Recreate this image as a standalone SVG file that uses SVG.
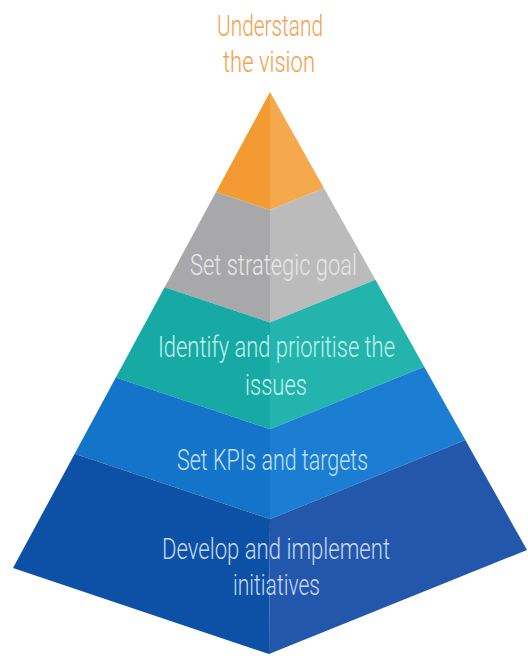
<svg xmlns="http://www.w3.org/2000/svg" width="528" height="656" viewBox="0 0 528 656">
  <style>
    .lbl { font-family: Roboto, "Liberation Sans", sans-serif; font-weight: 300; font-size: 29px; text-anchor: middle; }
    .title { fill: #F4A04A; }
    .t-gray { fill: #E6E6E6; }
    .t-teal { fill: #C4F2EF; }
    .t-blue { fill: #C2E2FF; }
    .t-navy { fill: #C9D9F6; }
  </style>
  <rect width="528" height="656" fill="#FFFFFF"/>

  <g id="title">
    <text class="lbl title" x="270" y="36" textLength="106" lengthAdjust="spacingAndGlyphs">Understand</text>
    <text class="lbl title" x="269" y="72" textLength="92" lengthAdjust="spacingAndGlyphs">the vision</text>
  </g>

  <!-- tier 1: apex -->
  <g id="tier-vision">
    <polygon points="270,92 216,192 270,210" fill="#F39A32"/>
    <polygon points="270,92 270,210 324,188.2" fill="#F6A94C"/>
  </g>

  <!-- tier 2 -->
  <g id="tier-goal">
    <polygon points="216,192 270,210 270,322.4 164.6,287.2" fill="#A8A8AA"/>
    <polygon points="270,210 324,188.2 375.4,279.8 270,322.4" fill="#BBBBBC"/>
    <text class="lbl t-gray" x="273.5" y="275" textLength="167" lengthAdjust="spacingAndGlyphs">Set strategic goal</text>
  </g>

  <!-- tier 3 -->
  <g id="tier-issues">
    <polygon points="164.6,287.2 270,322.4 270,429.2 115.8,377.6" fill="#17A9A4"/>
    <polygon points="270,322.4 375.4,279.8 424.2,366.8 270,429.2" fill="#22B4AD"/>
    <text class="lbl t-teal" x="276.5" y="357" textLength="237" lengthAdjust="spacingAndGlyphs">Identify and prioritise the</text>
    <text class="lbl t-teal" x="276" y="395" textLength="62" lengthAdjust="spacingAndGlyphs">issues</text>
  </g>

  <!-- tier 4 -->
  <g id="tier-kpis">
    <polygon points="115.8,377.6 270,429.2 270,519.1 74.7,453.8" fill="#1474CA"/>
    <polygon points="270,429.2 424.2,366.8 465.3,440.1 270,519.1" fill="#1B7ED2"/>
    <text class="lbl t-blue" x="272.5" y="470" textLength="191" lengthAdjust="spacingAndGlyphs">Set KPIs and targets</text>
  </g>

  <!-- tier 5: base -->
  <g id="tier-initiatives">
    <polygon points="74.7,453.8 270,519.1 269,654 13,568" fill="#0C51A5"/>
    <polygon points="270,519.1 465.3,440.1 527,550 269,654" fill="#2357AB"/>
    <text class="lbl t-navy" x="276" y="559" textLength="228" lengthAdjust="spacingAndGlyphs">Develop and implement</text>
    <text class="lbl t-navy" x="276.5" y="595" textLength="87" lengthAdjust="spacingAndGlyphs">initiatives</text>
  </g>

  <g id="connectors"/>
</svg>
